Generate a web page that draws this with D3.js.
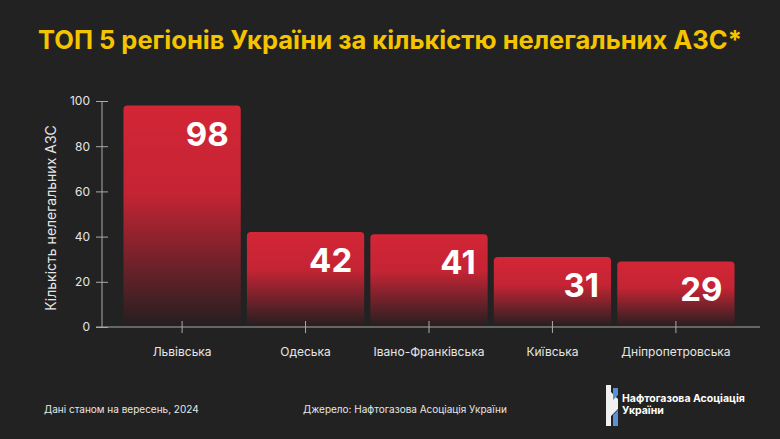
<!DOCTYPE html>
<html><head><meta charset="utf-8">
<script src="https://cdn.jsdelivr.net/npm/d3@7"></script>
<style>body{margin:0;background:#222222;}svg{display:block;font-family:Inter,"Noto Sans",sans-serif;}</style>
</head><body><svg id="c" width="780" height="439"></svg>
<script>
const categories=["Львівська","Одеська","Івано-Франківська","Київська","Дніпропетровська"];
const values=[98,42,41,31,29];
const yTicks=[0,20,40,60,80,100];

const svg=d3.select("#c");
svg.append("rect").attr("width",780).attr("height",439).attr("fill","#222222");
svg.append("text").attr("x",390).attr("y",49).attr("text-anchor","middle").attr("fill","#f5c400")
 .attr("font-size",25.5).attr("font-weight",700).text("ТОП 5 регіонів України за кількістю нелегальних АЗС*");

const x=d3.scaleBand().domain(categories).range([121,737]).paddingInner(0.05).paddingOuter(0.02);
const y=d3.scaleLinear().domain([0,100]).range([327,101]);

const defs=svg.append("defs");
const g=defs.append("linearGradient").attr("id","grad").attr("x1",0).attr("y1",0).attr("x2",0).attr("y2",1);
g.append("stop").attr("offset","0").attr("stop-color","#d32636");
g.append("stop").attr("offset","0.4").attr("stop-color","#c42434");
g.append("stop").attr("offset","1").attr("stop-color","#231f20");

const r=4;
svg.selectAll(".bar").data(values).join("path").attr("fill","url(#grad)")
 .attr("d",(d,i)=>{const x0=x(categories[i]),w=x.bandwidth(),t=y(d),b=y(0);
   return `M${x0},${b}V${t+r}Q${x0},${t} ${x0+r},${t}H${x0+w-r}Q${x0+w},${t} ${x0+w},${t+r}V${b}Z`;});

svg.selectAll(".val").data(values).join("text")
 .attr("x",(d,i)=>x(categories[i])+x.bandwidth()-12).attr("y",d=>y(d)+40)
 .attr("text-anchor","end").attr("fill","#fff").attr("font-size",33).attr("font-weight",700).text(d=>d);

const ya=svg.append("g").attr("transform","translate(102,0)")
 .call(d3.axisLeft(y).tickValues(yTicks).tickSize(6).tickPadding(6));
ya.selectAll(".tick line").attr("x2",6).attr("x1",-6);
const xa=svg.append("g").attr("transform","translate(0,327)")
 .call(d3.axisBottom(x).tickSize(6).tickPadding(14).tickSizeOuter(0));
xa.selectAll(".tick line").attr("y1",-6).attr("y2",6);
[ya,xa].forEach(a=>{a.selectAll("line,path").attr("stroke","#aaaaaa");
 a.selectAll("text").attr("fill","#e6e6e6").attr("font-size",12).attr("font-family","Inter,sans-serif");});
xa.select(".domain").attr("d","M96,0H760");
ya.select(".domain").attr("d","M0,101V327");

svg.append("text").attr("transform","translate(56,218) rotate(-90)").attr("text-anchor","middle")
 .attr("fill","#e6e6e6").attr("font-size",14).text("Кількість нелегальних АЗС");

svg.append("text").attr("x",44).attr("y",413).attr("fill","#e6e6e6").attr("font-size",10).text("Дані станом на вересень, 2024");
svg.append("text").attr("x",303).attr("y",413).attr("fill","#e6e6e6").attr("font-size",10).text("Джерело: Нафтогазова Асоціація України");

const lg=svg.append("g").attr("transform","translate(606,385)");
lg.append("path").attr("d","M0,0h5v7l7,7v10l-7,7v10h-5z").attr("fill","#f0f0f0");
lg.append("path").attr("d","M7,3h5v7l-5,5z M7,30l5,-5v16h-5z").attr("fill","#5b8fd6");
lg.append("text").attr("x",16).attr("y",17).attr("fill","#fff").attr("font-size",10.5).attr("font-weight",700).text("Нафтогазова Асоціація");
lg.append("text").attr("x",16).attr("y",29).attr("fill","#fff").attr("font-size",10.5).attr("font-weight",700).text("України");
</script></body></html>
